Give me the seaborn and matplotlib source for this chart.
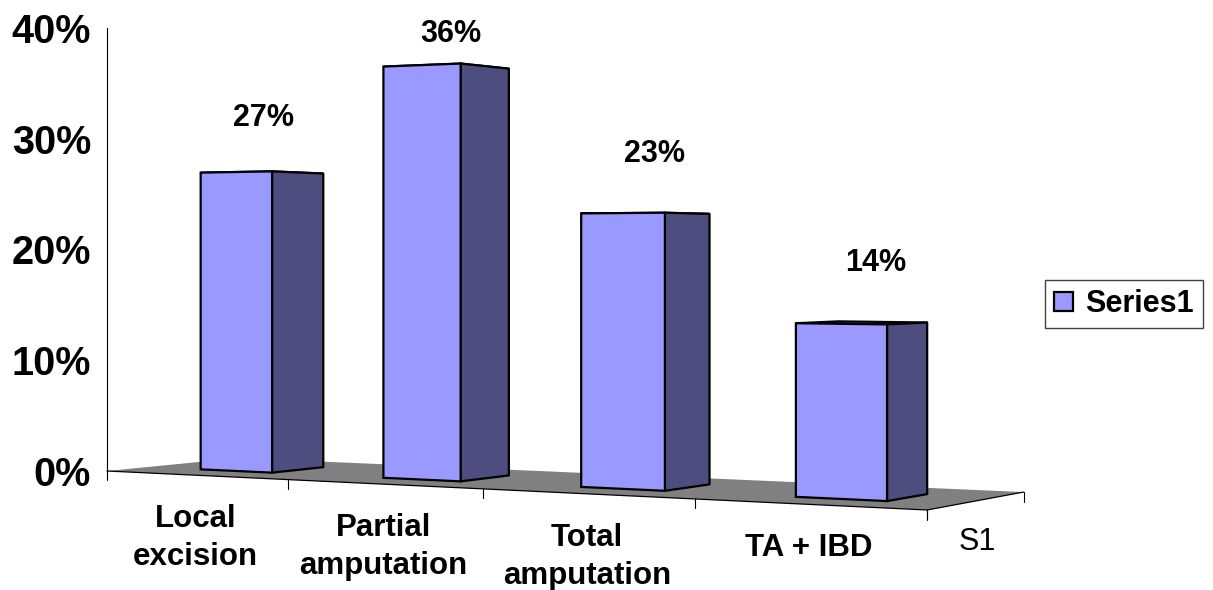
import numpy as np
import matplotlib
matplotlib.use("Agg")
import matplotlib.pyplot as plt
from matplotlib.transforms import Transform, Affine2D
from matplotlib.patches import Polygon
import seaborn as sns

# ---- data -------------------------------------------------------------
categories = ["Local\nexcision", "Partial\namputation", "Total\namputation", "TA + IBD"]
values = [27, 36, 23, 14]
series_name = "Series1"
series_axis_label = "S1"
y_ticks = [0, 10, 20, 30, 40]
y_tick_labels = ["0%", "10%", "20%", "30%", "40%"]

# ---- style ------------------------------------------------------------
FRONT = "#9999FF"
SIDE = "#4D4D80"
FLOOR = "#808080"
W_PX, H_PX, DPI = 1213, 590, 100

# Perspective camera: (category position u, value v, depth z) -> pixel (x right, y down)
CAMERA = np.array([
    [169.5,    0.0,     148.0,  107.0],
    [-9.78,   -11.075,  16.6,   471.0],
    [-0.03829, 0.0,     0.0646,   1.0],
])
BAR_WIDTH = 0.4
BAR_DEPTH = (0.3, 0.7)
LABEL_LIFT = 4.85   # value-label height above the bar top, in value units


def project(u, v, z):
    u, v, z = np.broadcast_arrays(np.asarray(u, float), np.asarray(v, float),
                                  np.asarray(z, float))
    h = CAMERA @ np.vstack([u.ravel(), v.ravel(), z.ravel(), np.ones(u.size)])
    return h[0] / h[2], h[1] / h[2]


class DepthPlane(Transform):
    """Maps (seaborn category x, value) on a plane of constant depth to pixels."""
    input_dims = output_dims = 2
    is_separable = False
    has_inverse = False

    def __init__(self, plane_z, shift):
        super().__init__()
        self.plane_z = plane_z
        self.shift = shift

    def transform_non_affine(self, values):
        xy = np.atleast_2d(np.asarray(values, float))
        x, y = project(xy[:, 0] + self.shift, xy[:, 1], self.plane_z)
        return np.column_stack([x, y])


sns.set_style("white")
plt.rcParams["font.family"] = ["Liberation Sans", "DejaVu Sans"]
plt.rcParams["text.color"] = "black"

fig = plt.figure(figsize=(W_PX / DPI, H_PX / DPI), dpi=DPI)
screen = Affine2D().scale(1 / DPI, -1 / DPI).translate(0, H_PX / DPI) + fig.dpi_scale_trans

n = len(categories)
x0, y_base = project(0, 0, 0)
_, y_top = project(0, y_ticks[-1], 0)
fx_end, _ = project(n, 0, 0)
ax = fig.add_axes([x0[0] / W_PX, 1 - y_base[0] / H_PX,
                   (fx_end[0] - x0[0]) / W_PX, (y_base[0] - y_top[0]) / H_PX])
ax.patch.set_alpha(0)

sns.barplot(x=categories, y=values, color=FRONT, saturation=1, width=BAR_WIDTH,
            edgecolor="black", linewidth=1.6, errorbar=None, label=series_name, ax=ax)

ax.set_ylim(y_ticks[0], y_ticks[-1])
ax.set_yticks(y_ticks, y_tick_labels)
ax.set_xticks([])
ax.set_xlabel("")
ax.set_ylabel("")
for side in ("top", "right", "bottom"):
    ax.spines[side].set_visible(False)
ax.spines["left"].set_color("black")
ax.spines["left"].set_linewidth(0.8)
ax.tick_params(axis="y", direction="out", length=6.5, width=0.8, color="black",
               pad=5, labelsize=28.5, labelcolor="black")
for t in ax.get_yticklabels():
    t.set_fontweight("bold")

leg = ax.legend(loc="upper left", bbox_to_anchor=(1045 / W_PX, 1 - 280 / H_PX),
                bbox_transform=fig.transFigure, frameon=True, fancybox=False,
                framealpha=1, edgecolor="#404040",
                prop=dict(weight="bold", size=22), handlelength=0.62,
                handleheight=0.62, handletextpad=0.4, borderpad=0.3,
                borderaxespad=0, labelcolor="black")
leg.get_frame().set_linewidth(1.0)

# floor
fx, fy = project([0, n, n, 0], 0, [0, 0, 1, 1])
ax.add_patch(Polygon(np.column_stack([fx, fy]), closed=True, facecolor=FLOOR,
                     edgecolor="none", transform=screen, clip_on=False, zorder=1))
ex, ey = project(np.arange(n + 1), 0, 0)
ax.plot(ex, ey, color="black", lw=0.9, transform=screen, clip_on=False, zorder=1.5)
sx, sy = project(n, 0, [0, 1])
ax.plot(sx, sy, color="black", lw=0.9, transform=screen, clip_on=False, zorder=1.5)
for xk, yk in zip(ex, ey):
    ax.plot([xk, xk], [yk, yk + 9], color="black", lw=0.8, transform=screen, clip_on=False)
for xk, yk in zip(sx, sy):
    ax.plot([xk, xk], [yk, yk + 10], color="black", lw=0.8, transform=screen, clip_on=False)

# bars: seaborn front faces projected onto the front plane, plus side/top faces
z0, z1 = BAR_DEPTH
_, label_floor = project(0, y_ticks[-1], 0)
for p, val in zip(ax.patches, values):
    ul = p.get_x() + 0.5
    ur = ul + p.get_width()
    v = p.get_height()
    tx, ty = project([ul, ur, ur, ul], v, [z0, z0, z1, z1])
    ax.add_patch(Polygon(np.column_stack([tx, ty]), closed=True, facecolor=FRONT,
                         edgecolor="black", lw=1.6, transform=screen, clip_on=False,
                         zorder=2))
    sx_, sy_ = project(ur, [0, 0, v, v], [z0, z1, z1, z0])
    ax.add_patch(Polygon(np.column_stack([sx_, sy_]), closed=True, facecolor=SIDE,
                         edgecolor="black", lw=1.6, joinstyle="round", transform=screen,
                         clip_on=False, zorder=3))
    p.set_transform(DepthPlane(z0, 0.5) + screen)
    p.set_clip_on(False)
    p.set_zorder(4)
    lx, ly = project((ul + ur) / 2 + 0.15, v + LABEL_LIFT, z0)
    ax.text(lx[0], max(ly[0], label_floor[0] + 6), f"{val}%", transform=screen,
            ha="center", va="center", fontsize=22, fontweight="bold", color="black")

# category labels along the front edge of the floor
for i, cat in enumerate(categories):
    cx, cy = project(i + 0.5, 0, 0)
    ax.text(cx[0], cy[0] + 29, cat, transform=screen, ha="center", va="top",
            multialignment="center", fontsize=22.5, fontweight="bold",
            linespacing=1.34, color="black")

# series axis label on the right edge of the floor
qx, qy = project(n, 0, 0.5)
ax.text(qx[0], qy[0] + 26, series_axis_label, transform=screen, ha="center",
        va="top", fontsize=22, color="black")

fig.savefig("out.png", dpi=DPI)
